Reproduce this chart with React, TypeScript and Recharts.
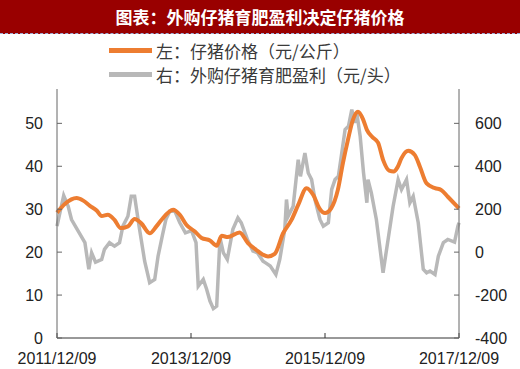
import React from 'react';
import { LineChart, Line, XAxis, YAxis } from 'recharts';

// months since 2011/12/09
const priceMonths = [0, 1.4, 3.5, 4.7, 5.9, 7.1, 8.0, 9.1, 10.3, 11.4, 12.7, 13.9, 15.1, 16.6, 17.8, 18.7, 20.8, 22.0, 23.2, 24.7, 25.9, 27.4, 28.6, 29.5, 30.6, 32.7, 34.2, 35.7, 36.9, 37.8, 39.0, 40.5, 42.0, 43.2, 44.7, 45.9, 47.0, 48.0, 49.1, 50.3, 51.2, 52.1, 53.0, 53.9, 54.8, 55.5, 56.5, 57.5, 58.4, 59.5, 60.3, 61.0, 61.7, 62.9, 64.1, 65.0, 66.2, 67.7, 68.8, 70.0, 72.0];
const priceValues = [29.2, 31.2, 32.6, 32.0, 30.8, 29.7, 28.4, 28.7, 27.5, 25.6, 26.0, 27.7, 26.7, 24.4, 26.0, 27.5, 29.9, 28.7, 26.3, 24.8, 23.3, 22.7, 21.5, 23.8, 23.5, 24.6, 22.1, 20.5, 19.4, 19.0, 19.6, 24.4, 27.5, 31.0, 34.9, 33.3, 30.2, 29.1, 30.2, 34.5, 40.7, 46.1, 50.8, 52.7, 51.0, 48.5, 46.8, 45.5, 41.5, 39.0, 38.8, 39.8, 41.9, 43.6, 42.6, 39.9, 36.0, 34.9, 34.5, 32.9, 30.2];

const profitMonths = [0, 1.2, 2.0, 2.6, 3.8, 5.0, 5.7, 6.2, 6.9, 8.0, 8.5, 9.4, 10.3, 11.2, 11.8, 12.7, 13.3, 13.9, 14.7, 15.7, 16.6, 17.5, 18.1, 18.9, 19.5, 20.2, 21.1, 22.0, 23.0, 24.1, 24.9, 25.3, 26.2, 26.8, 27.4, 28.0, 28.6, 29.2, 29.8, 30.5, 31.5, 32.4, 33.0, 34.1, 35.1, 35.9, 36.9, 37.3, 38.2, 39.2, 39.9, 40.8, 41.1, 41.4, 42.3, 43.2, 43.6, 44.4, 45.0, 45.6, 46.2, 47.1, 47.7, 48.6, 49.2, 49.8, 50.4, 51.0, 51.6, 52.2, 52.8, 53.3, 53.7, 54.3, 54.9, 55.5, 55.7, 56.3, 57.2, 57.8, 58.4, 59.3, 60.2, 61.1, 61.7, 62.6, 63.2, 63.8, 64.7, 65.6, 66.2, 66.8, 67.7, 68.3, 69.2, 70.0, 71.2, 71.8, 72.0];
const profitValues = [121, 264, 214, 152, 98, 44, -80, -3, -47, -34, 13, 44, 28, 44, 121, 167, 260, 260, 121, -42, -142, -127, -19, 80, 152, 191, 191, 137, 90, 100, 44, -158, -127, -173, -228, -263, -251, 67, -3, -34, 106, 160, 137, 59, 5, -3, -42, -49, -65, -104, -34, 106, 245, 167, 214, 431, 353, 462, 369, 338, 245, 152, 121, 137, 292, 338, 353, 462, 571, 586, 664, 602, 648, 540, 370, 230, 338, 276, 152, 28, -96, 59, 214, 338, 292, 338, 230, 260, 137, -80, -96, -88, -104, -19, 44, 59, 47, 121, 137];

const xTicks = [0, 24, 48, 72];
const xTickLabels = ['2011/12/09', '2013/12/09', '2015/12/09', '2017/12/09'];
const leftTicks = [0, 10, 20, 30, 40, 50];
const rightTicks = [-400, -200, 0, 200, 400, 600];

const title = '图表：外购仔猪育肥盈利决定仔猪价格';
const priceName = '左：仔猪价格（元/公斤）';
const profitName = '右：外购仔猪育肥盈利（元/头）';

const priceData = priceMonths.map((m, i) => ({ m, price: priceValues[i] }));
const profitData = profitMonths.map((m, i) => ({ m, profit: profitValues[i] }));

const tickStyle = { fill: '#222', fontSize: 16, fontFamily: 'Liberation Sans, Arial, sans-serif' };

export default function App() {
  return (
    <div style={{ position: 'absolute', left: 0, top: 0, width: 520, height: 369, background: '#fff', overflow: 'hidden' }}>
      {/* title bar */}
      <div
        style={{
          position: 'absolute', left: 0, top: 0, width: 520, height: 33,
          background: '#990000', borderBottom: '1px dashed #9fb0d8',
          color: '#fff', fontFamily: '"Noto Sans CJK SC", sans-serif', fontWeight: 700,
          fontSize: 17, lineHeight: '33px', textAlign: 'center',
        }}
      >
        {title}
      </div>

      {/* legend */}
      <div style={{ position: 'absolute', left: 109, top: 38, fontFamily: '"Noto Sans CJK SC", sans-serif', fontSize: 17, color: '#3a3a3a' }}>
        <div style={{ display: 'flex', alignItems: 'center', height: 24 }}>
          <span style={{ width: 43, height: 5, background: '#ED7D31', marginRight: 4 }} />
          <span>{priceName}</span>
        </div>
        <div style={{ display: 'flex', alignItems: 'center', height: 24 }}>
          <span style={{ width: 43, height: 5, background: '#B8B8B8', marginRight: 4 }} />
          <span>{profitName}</span>
        </div>
      </div>

      <div style={{ position: 'absolute', left: 0, top: 0 }}>
        <LineChart width={520} height={369} margin={{ top: 89, right: 11, bottom: 0, left: 7 }}>
          <XAxis
            dataKey="m"
            type="number"
            domain={[0, 72]}
            ticks={xTicks}
            tickFormatter={(v: number) => xTickLabels[xTicks.indexOf(v)] ?? ''}
            tick={tickStyle}
            tickSize={-5}
            tickMargin={20}
            height={31}
            stroke="#333"
            interval={0}
          />
          <YAxis
            yAxisId="left"
            domain={[0, 58]}
            ticks={leftTicks}
            tick={tickStyle}
            tickSize={-5}
            tickMargin={19}
            width={50}
            stroke="#666"
            allowDataOverflow
            interval={0}
          />
          <YAxis
            yAxisId="right"
            orientation="right"
            domain={[-400, 760]}
            ticks={rightTicks}
            tick={{ ...tickStyle, textAnchor: 'start' }}
            tickSize={-5}
            tickMargin={21}
            width={50}
            stroke="#666"
            allowDataOverflow
            interval={0}
          />
          <Line
            yAxisId="right"
            data={profitData}
            dataKey="profit"
            type="linear"
            stroke="#B8B8B8"
            strokeWidth={3.5}
            dot={false}
            isAnimationActive={false}
          />
          <Line
            yAxisId="left"
            data={priceData}
            dataKey="price"
            type="monotone"
            stroke="#ED7D31"
            strokeWidth={4}
            dot={false}
            isAnimationActive={false}
          />
        </LineChart>
      </div>
    </div>
  );
}
